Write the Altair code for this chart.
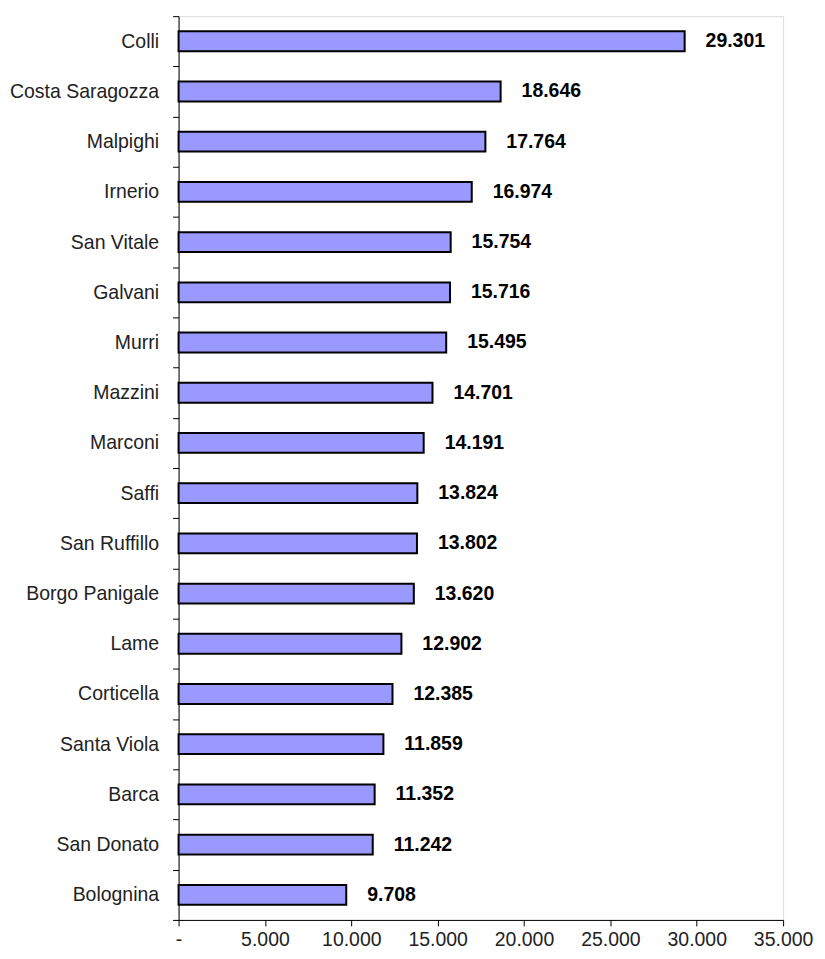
import altair as alt
import pandas as pd

zones = ["Colli", "Costa Saragozza", "Malpighi", "Irnerio", "San Vitale", "Galvani",
         "Murri", "Mazzini", "Marconi", "Saffi", "San Ruffillo", "Borgo Panigale",
         "Lame", "Corticella", "Santa Viola", "Barca", "San Donato", "Bolognina"]
values = [29301, 18646, 17764, 16974, 15754, 15716, 15495, 14701, 14191, 13824,
          13802, 13620, 12902, 12385, 11859, 11352, 11242, 9708]
x_ticks = [0, 5000, 10000, 15000, 20000, 25000, 30000, 35000]

df = pd.DataFrame({"zona": zones, "valore": values})

FONT = "Liberation Sans"

y_enc = alt.Y(
    "zona:N", sort=zones, title=None,
    scale=alt.Scale(paddingInner=0, paddingOuter=0),
    axis=alt.Axis(tickBand="extent", tickSize=6, labelPadding=14, labelFontSize=19.5,
                  labelFont=FONT, labelColor="#222222", domainColor="#000000",
                  tickColor="#000000", domainWidth=1, tickWidth=1, labelLimit=400),
)
x_enc = alt.X(
    "valore:Q", title=None,
    scale=alt.Scale(domain=[0, 35000], nice=False),
    axis=alt.Axis(values=x_ticks, tickSize=6, labelPadding=5, labelFontSize=19.5,
                  labelFont=FONT, labelColor="#222222", domainColor="#000000",
                  tickColor="#000000", grid=False, labelFlush=False,
                  labelExpr="datum.value == 0 ? '-' : replace(format(datum.value, ',d'), ',', '.')"),
)

bars = alt.Chart(df).mark_bar(
    fill="#9999FF", stroke="#000000", strokeWidth=2,
    height=alt.RelativeBandSize(0.395),
).encode(x=x_enc, y=y_enc)

labels = alt.Chart(df).transform_calculate(
    lab="replace(format(datum.valore, ',d'), ',', '.')"
).mark_text(
    align="left", baseline="middle", dx=21, font=FONT, fontSize=19.5,
    fontWeight="bold", color="#000000"
).encode(
    x="valore:Q", y=alt.Y("zona:N", sort=zones), text="lab:N"
)

chart = alt.layer(bars, labels).properties(
    width=606, height=906,
    autosize=alt.AutoSizeParams(type="none"),
    padding={"left": 171, "top": 7, "right": 34, "bottom": 32},
).configure_view(stroke=None).configure(background="white")

chart.save("out.html", embed_options={"renderer": "svg", "actions": False})
